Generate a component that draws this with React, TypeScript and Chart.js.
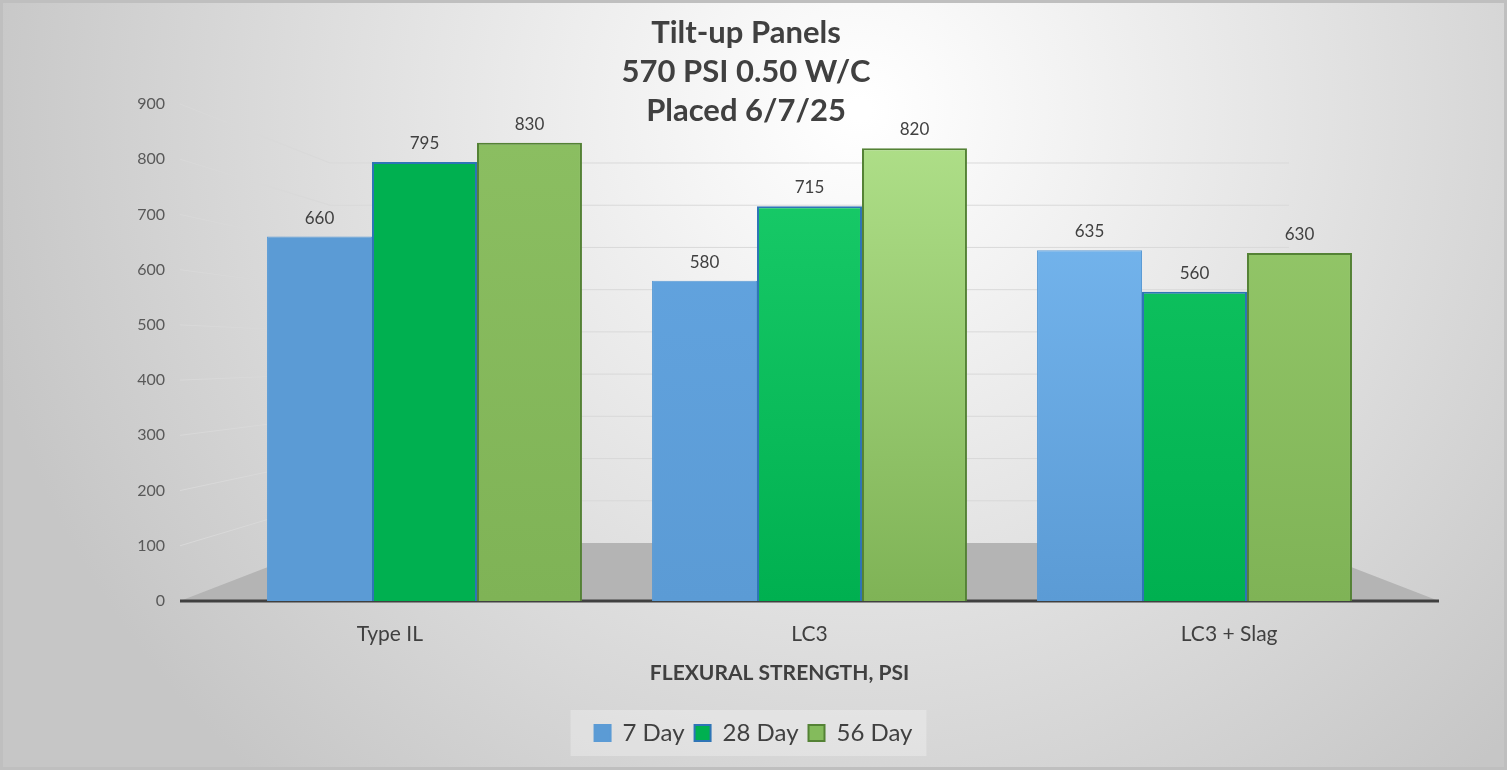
import { useEffect, useRef } from 'react';
import { Chart, registerables } from 'chart.js';
import type { Plugin, ScriptableContext } from 'chart.js';

Chart.register(...registerables);

const categories = ['Type IL', 'LC3', 'LC3 + Slag'];
const day7 = [660, 580, 635];
const day28 = [795, 715, 560];
const day56 = [830, 820, 630];
const titleLines = ['Tilt-up Panels', '570 PSI 0.50 W/C', 'Placed 6/7/25'];
const xTitle = 'FLEXURAL STRENGTH, PSI';

const FONT = 'Lato, "Open Sans", sans-serif';
const TEXT = '#404040';

// how far the 3d frame sticks out past the plot, and how deep the back wall sits
const FRAME_OUT = 52;
const DEPTH_X = 150;
const DEPTH_Y = 58;

// light at the top of each bar, base colour at the bottom (Excel's lighting)
const shade = (tops: string[], bottom: string) => (c: ScriptableContext<'bar'>) => {
  const area = c.chart.chartArea;
  if (!area) return bottom;
  const g = c.chart.ctx.createLinearGradient(0, area.top, 0, area.bottom);
  g.addColorStop(0, tops[c.dataIndex] ?? bottom);
  g.addColorStop(1, bottom);
  return g;
};

const backdrop: Plugin<'bar'> = {
  id: 'backdrop',
  beforeDraw(chart) {
    const { ctx, width, height } = chart;
    ctx.save();
    const g = ctx.createRadialGradient(860, 110, 10, 860, 110, 900);
    g.addColorStop(0, '#ffffff');
    g.addColorStop(0.5, '#e3e3e3');
    g.addColorStop(1, '#c6c6c6');
    ctx.fillStyle = g;
    ctx.fillRect(0, 0, width, height);
    ctx.strokeStyle = '#bfbfbf';
    ctx.lineWidth = 3;
    ctx.strokeRect(1.5, 1.5, width - 3, height - 3);

    // title, drawn by hand so it can overlap the top of the back wall like the original
    ctx.fillStyle = TEXT;
    ctx.font = `bold 31px ${FONT}`;
    ctx.textAlign = 'center';
    ctx.textBaseline = 'middle';
    titleLines.forEach((t, i) => ctx.fillText(t, 746, 33 + i * 39));

    // soft panel behind the legend
    const boxes = chart.legend?.legendHitBoxes;
    if (boxes && boxes.length) {
      const l = Math.min(...boxes.map((b) => b.left)) - 24;
      const r = Math.max(...boxes.map((b) => b.left + b.width)) + 14;
      const t = boxes[0].top - 11;
      const h = boxes[0].height + 22;
      ctx.fillStyle = 'rgba(255,255,255,0.28)';
      ctx.fillRect(l, t, r - l, h);
    }
    ctx.restore();
  },
  beforeDatasetsDraw(chart) {
    const { ctx, chartArea } = chart;
    const y = chart.scales.y;
    const left = chartArea.left - FRAME_OUT;
    const right = chartArea.right + FRAME_OUT;
    const y0 = y.getPixelForValue(0);
    const backBase = y0 - DEPTH_Y;
    const backTop = chartArea.top + DEPTH_Y + 1;
    const max = y.max;
    ctx.save();
    // slanted side wall + back wall gridlines
    ctx.strokeStyle = '#d9d9d9';
    ctx.lineWidth = 1;
    y.ticks.forEach((tk) => {
      if (tk.value === 0) return;
      const yf = y.getPixelForValue(tk.value);
      const yb = backBase + ((backTop - backBase) * tk.value) / max;
      ctx.beginPath();
      ctx.moveTo(left, yf);
      ctx.lineTo(left + DEPTH_X, yb);
      ctx.lineTo(right - DEPTH_X, yb);
      ctx.stroke();
    });
    // floor
    ctx.fillStyle = '#b4b4b4';
    ctx.beginPath();
    ctx.moveTo(left, y0);
    ctx.lineTo(left + DEPTH_X, backBase);
    ctx.lineTo(right - DEPTH_X, backBase);
    ctx.lineTo(right, y0);
    ctx.closePath();
    ctx.fill();
    ctx.strokeStyle = '#404040';
    ctx.lineWidth = 3;
    ctx.beginPath();
    ctx.moveTo(left, y0);
    ctx.lineTo(right, y0);
    ctx.stroke();

    // category labels sit on the front edge of the floor, axis title under them
    const step = (right - left) / categories.length;
    ctx.fillStyle = TEXT;
    ctx.textAlign = 'center';
    ctx.textBaseline = 'middle';
    ctx.font = `21px ${FONT}`;
    categories.forEach((c, i) => ctx.fillText(c, left + step * (i + 0.5), y0 + 33));
    ctx.font = `bold 21px ${FONT}`;
    ctx.fillText(xTitle, (left + right) / 2 - 30, y0 + 72);
    ctx.restore();
  },
};

const valueLabels: Plugin<'bar'> = {
  id: 'valueLabels',
  afterDatasetsDraw(chart) {
    const { ctx } = chart;
    ctx.save();
    ctx.font = `17px ${FONT}`;
    ctx.fillStyle = TEXT;
    ctx.textAlign = 'center';
    ctx.textBaseline = 'bottom';
    chart.data.datasets.forEach((ds, i) => {
      chart.getDatasetMeta(i).data.forEach((bar, j) => {
        ctx.fillText(String(ds.data[j]), bar.x, bar.y - 10);
      });
    });
    ctx.restore();
  },
};

export default function App() {
  const canvasRef = useRef<HTMLCanvasElement>(null);

  useEffect(() => {
    document.body.style.margin = '0';
    if (!canvasRef.current) return;
    const chart = new Chart(canvasRef.current, {
      type: 'bar',
      data: {
        labels: categories,
        datasets: [
          {
            label: '7 Day',
            data: day7,
            backgroundColor: shade(['#5b9bd5', '#64a6e2', '#7bbcf4'], '#5b9bd5'),
            borderColor: '#5b9bd5',
            borderWidth: 1,
          },
          {
            label: '28 Day',
            data: day28,
            backgroundColor: shade(['#00b050', '#1ccf6c', '#14c864'], '#00b050'),
            borderColor: '#2e75b6',
            borderWidth: 2,
          },
          {
            label: '56 Day',
            data: day56,
            backgroundColor: shade(['#8cbf62', '#b2e28c', '#99cc6e'], '#7fb356'),
            borderColor: '#548235',
            borderWidth: 2,
          },
        ],
      },
      options: {
        responsive: true,
        maintainAspectRatio: false,
        animation: false,
        layout: { padding: { left: 0, right: 0, top: 104, bottom: 15 } },
        datasets: { bar: { categoryPercentage: 0.818, barPercentage: 1 } },
        plugins: {
          title: { display: false },
          legend: {
            position: 'bottom',
            labels: {
              color: TEXT,
              font: { family: FONT, size: 24 },
              boxWidth: 16,
              boxHeight: 16,
              padding: 10,
              generateLabels(ch) {
                const fills = ['#5b9bd5', '#00b050', '#84bb5c'];
                const edges = ['#5b9bd5', '#2e75b6', '#548235'];
                return ch.data.datasets.map((ds, i) => ({
                  text: String(ds.label),
                  fillStyle: fills[i],
                  strokeStyle: edges[i],
                  lineWidth: 2,
                  fontColor: TEXT,
                  datasetIndex: i,
                  hidden: false,
                }));
              },
            },
          },
          tooltip: { enabled: false },
        },
        scales: {
          x: {
            grid: { display: false },
            border: { display: false },
            ticks: { display: false },
            afterFit(scale) {
              scale.height = 110;
            },
          },
          y: {
            min: 0,
            max: 900,
            afterFit(scale) {
              scale.width = 232;
            },
            ticks: {
              stepSize: 100,
              color: '#595959',
              font: { family: FONT, size: 16 },
              padding: 67,
            },
            grid: { display: false, drawTicks: false },
            border: { display: false },
          },
          // empty right-hand axis that only reserves the room the 3d frame needs
          yRight: {
            position: 'right',
            display: true,
            grid: { display: false, drawTicks: false },
            border: { display: false },
            ticks: { display: false },
            afterFit(scale) {
              scale.width = 120;
            },
          },
        },
      },
      plugins: [backdrop, valueLabels],
    });
    return () => chart.destroy();
  }, []);

  return (
    <div style={{ width: 1507, height: 770, position: 'relative' }}>
      <canvas ref={canvasRef} />
    </div>
  );
}
